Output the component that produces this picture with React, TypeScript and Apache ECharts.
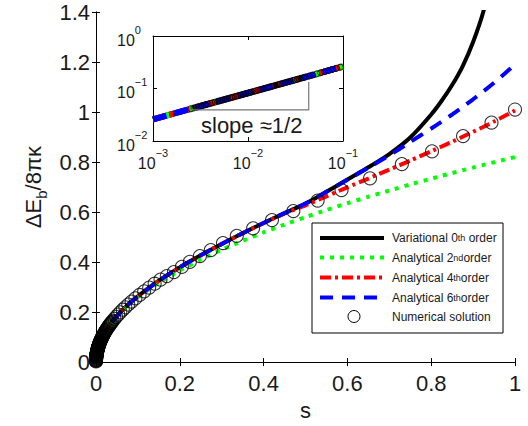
import React, { useEffect, useRef } from "react";
import * as echarts from "echarts";

// s grid shared by the analytic / variational curves
const sGrid = [0, 0.0005, 0.001, 0.002, 0.005, 0.01, 0.02, 0.035, 0.05, 0.075, 0.1, 0.15, 0.2, 0.25, 0.3, 0.35, 0.4, 0.45, 0.5, 0.55, 0.6, 0.65, 0.7, 0.75, 0.8, 0.825, 0.85, 0.875, 0.9, 0.925, 0.95, 0.975, 1.0];

const variational0 = [0, 0.0183, 0.0259, 0.0367, 0.058, 0.0821, 0.1163, 0.1538, 0.1845, 0.2275, 0.2631, 0.3254, 0.3789, 0.4274, 0.4724, 0.5153, 0.5563, 0.5955, 0.634, 0.681, 0.73, 0.779, 0.832, 0.898, 0.99, 1.045, 1.108, 1.183, 1.28, 1.405, 1.59, 1.85, 2.2];
const analytical2 = [0, 0.0183, 0.0259, 0.0367, 0.058, 0.082, 0.116, 0.1534, 0.1834, 0.2246, 0.2593, 0.3176, 0.3667, 0.41, 0.4491, 0.4851, 0.5186, 0.5501, 0.5798, 0.6081, 0.6352, 0.6611, 0.6861, 0.7101, 0.7334, 0.7448, 0.756, 0.767, 0.7779, 0.7887, 0.7992, 0.8097, 0.82];
const analytical4 = [0, 0.0183, 0.0259, 0.0367, 0.058, 0.0821, 0.1163, 0.1538, 0.1845, 0.2275, 0.2631, 0.3254, 0.3789, 0.4274, 0.4724, 0.5153, 0.5563, 0.5945, 0.627, 0.663, 0.699, 0.734, 0.77, 0.806, 0.843, 0.862, 0.881, 0.901, 0.921, 0.941, 0.962, 0.984, 1.006];
const analytical6 = [0, 0.0183, 0.0259, 0.0367, 0.058, 0.0821, 0.1163, 0.1538, 0.1845, 0.2275, 0.2631, 0.3254, 0.3789, 0.4274, 0.4724, 0.5153, 0.5563, 0.5955, 0.634, 0.681, 0.729, 0.777, 0.827, 0.88, 0.934, 0.962, 0.99, 1.02, 1.051, 1.083, 1.117, 1.153, 1.19];

const numericalS = [0.00001, 0.00003, 0.00006, 0.0001, 0.00015, 0.0002, 0.0003, 0.0004, 0.0005, 0.0006, 0.0007, 0.0008, 0.0009, 0.001, 0.0011, 0.0012, 0.0013, 0.0014, 0.0015, 0.0016, 0.0017, 0.0018, 0.0019, 0.002, 0.0021, 0.0022, 0.0023, 0.0024, 0.0025, 0.0027, 0.0029, 0.003, 0.0032, 0.0033, 0.0035, 0.0036, 0.0038, 0.004, 0.0042, 0.0045, 0.0048, 0.005, 0.0053, 0.0055, 0.0058, 0.006, 0.0064, 0.0067, 0.007, 0.0074, 0.0078, 0.0082, 0.0086, 0.009, 0.0095, 0.01, 0.0105, 0.011, 0.0116, 0.0122, 0.0128, 0.0135, 0.0142, 0.015, 0.0158, 0.0165, 0.0172, 0.018, 0.019, 0.02, 0.021, 0.022, 0.0232, 0.0245, 0.0257, 0.027, 0.0285, 0.03, 0.0315, 0.033, 0.0345, 0.036, 0.038, 0.04, 0.044, 0.048, 0.053, 0.058, 0.064, 0.07, 0.077, 0.085, 0.094, 0.104, 0.115, 0.127, 0.14, 0.154, 0.169, 0.186, 0.205, 0.224, 0.248, 0.274, 0.303, 0.336, 0.375, 0.42, 0.471, 0.529, 0.586, 0.654, 0.73, 0.802, 0.876, 0.944, 1.0];
const numericalY = [0.0026, 0.0045, 0.0064, 0.0082, 0.01, 0.0116, 0.0142, 0.0164, 0.0183, 0.0201, 0.0217, 0.0232, 0.0246, 0.0259, 0.0272, 0.0284, 0.0296, 0.0307, 0.0318, 0.0328, 0.0338, 0.0348, 0.0357, 0.0367, 0.0376, 0.0385, 0.0393, 0.0402, 0.041, 0.0426, 0.0442, 0.0449, 0.0464, 0.0471, 0.0485, 0.0492, 0.0505, 0.0519, 0.0531, 0.055, 0.0568, 0.058, 0.0597, 0.0608, 0.0624, 0.0635, 0.0656, 0.0671, 0.0686, 0.0705, 0.0724, 0.0743, 0.0761, 0.0778, 0.0799, 0.082, 0.0841, 0.086, 0.0884, 0.0906, 0.0928, 0.0953, 0.0977, 0.1004, 0.1031, 0.1053, 0.1076, 0.1103, 0.1133, 0.1163, 0.1192, 0.122, 0.1253, 0.1289, 0.1321, 0.1353, 0.139, 0.1427, 0.1462, 0.1497, 0.153, 0.1564, 0.1607, 0.165, 0.1732, 0.1809, 0.1903, 0.1993, 0.2095, 0.2193, 0.2303, 0.2422, 0.2551, 0.2687, 0.283, 0.298, 0.3136, 0.33, 0.344, 0.36, 0.381, 0.401, 0.424, 0.448, 0.476, 0.505, 0.535, 0.568, 0.604, 0.646, 0.688, 0.735, 0.792, 0.843, 0.904, 0.958, 1.01];

// slope triangle in the inset (log-log)
const slopeS = [0.00245, 0.0436, 0.0436];
const slopeY = [0.039, 0.039, 0.133];

const legendLabels = [
  "Variational 0{s|th} order",
  "Analytical 2{s|nd}order",
  "Analytical 4{s|th}order",
  "Analytical 6{s|th}order",
  "Numerical solution",
];

const FONT = "'Liberation Sans', Arial, Helvetica, sans-serif";
const TXT = "#1a1a1a";

const pairs = (xs: number[], ys: number[]) => xs.map((x, i) => [x, ys[i]]);
const insetPairs = (xs: number[], ys: number[]) =>
  pairs(xs, ys).filter(([x]) => x >= 0.001 && x <= 0.1);

const DOT = [4, 6];
const DASHDOT = [11, 4, 3, 4];
const DASH = [13, 9];

export default function App() {
  const ref = useRef<HTMLDivElement>(null);
  useEffect(() => {
    if (!ref.current) return;
    const chart = echarts.init(ref.current, undefined, { renderer: "svg" });

    const supFmt = (v: number) => {
      const e = Math.round(Math.log10(v));
      const es = e < 0 ? "\u2212" + Math.abs(e) : String(e);
      return "{b|10}{e|" + es + "}";
    };
    const supRich = {
      b: { fontSize: 16, lineHeight: 24, color: TXT, fontFamily: FONT, verticalAlign: "bottom" },
      e: { fontSize: 11, lineHeight: 12, color: TXT, fontFamily: FONT, verticalAlign: "top" },
    };

    const mainAxisCommon = {
      axisLine: { show: true, lineStyle: { color: "#000", width: 1 } },
      axisTick: { show: true, inside: true, length: 4, lineStyle: { color: "#000" } },
      splitLine: { show: false },
    };
    const insetAxisCommon = {
      axisLine: { show: true, lineStyle: { color: "#000", width: 1 } },
      axisTick: { show: true, inside: true, length: 4, lineStyle: { color: "#000" } },
      splitLine: { show: false },
      minorTick: { show: false },
    };

    const legendY = [238, 257.5, 277.5, 297.5, 316.5];
    const legendGraphics: any[] = [
      {
        type: "rect",
        shape: { x: 312, y: 223, width: 191, height: 110 },
        style: { fill: "#fff", stroke: "#000", lineWidth: 1 },
        z: 100,
      },
    ];
    const legendStyles = [
      { stroke: "#000", lineDash: null },
      { stroke: "#00ff00", lineDash: DOT },
      { stroke: "#ff0000", lineDash: DASHDOT },
      { stroke: "#0000ff", lineDash: DASH },
    ];
    legendStyles.forEach((ls, i) => {
      legendGraphics.push({
        type: "line",
        shape: { x1: 320, y1: legendY[i], x2: 384, y2: legendY[i] },
        style: { stroke: ls.stroke, lineWidth: 4, lineDash: ls.lineDash, lineCap: "butt" },
        z: 101,
      });
    });
    legendGraphics.push({
      type: "circle",
      shape: { cx: 354, cy: legendY[4], r: 6 },
      style: { fill: "none", stroke: "#000", lineWidth: 1 },
      z: 101,
    });
    legendLabels.forEach((lab, i) => {
      legendGraphics.push({
        type: "text",
        x: 392,
        y: legendY[i],
        style: {
          text: lab,
          fontSize: 12,
          fontFamily: FONT,
          fill: TXT,
          verticalAlign: "middle",
          align: "left",
          rich: {
            s: { fontSize: 9, fontFamily: FONT, fill: TXT, verticalAlign: "middle" },
          },
        },
        z: 101,
      });
    });
    legendGraphics.push({
      type: "text",
      x: 201,
      y: 125,
      style: {
        text: "slope \u22481/2",
        fontSize: 22,
        fontFamily: FONT,
        fill: TXT,
        verticalAlign: "middle",
        align: "left",
      },
      z: 50,
    });

    chart.setOption({
      animation: false,
      backgroundColor: "#fff",
      textStyle: { fontFamily: FONT },
      grid: [
        { left: 96, top: 12, width: 419, height: 353, containLabel: false },
        { left: 153, top: 36, width: 190, height: 105, show: true, backgroundColor: "#fff", borderWidth: 0, z: 10 },
      ],
      xAxis: [
        {
          type: "value", gridIndex: 0, min: 0, max: 1, interval: 0.2, position: "bottom",
          ...mainAxisCommon,
          axisLabel: { fontSize: 22, color: TXT, margin: 10, fontFamily: FONT },
          name: "s", nameLocation: "middle", nameGap: 36,
          nameTextStyle: { fontSize: 22, color: TXT, fontFamily: FONT },
        },
        {
          type: "value", gridIndex: 0, min: 0, max: 1, interval: 0.2, position: "top",
          ...mainAxisCommon, axisLabel: { show: false },
        },
        {
          type: "log", gridIndex: 1, min: 0.001, max: 0.1, logBase: 10, position: "bottom",
          ...insetAxisCommon,
          axisLabel: { formatter: supFmt, rich: supRich, margin: 6 },
          z: 11,
        },
        {
          type: "log", gridIndex: 1, min: 0.001, max: 0.1, logBase: 10, position: "top",
          ...insetAxisCommon, axisLabel: { show: false }, z: 11,
        },
      ],
      yAxis: [
        {
          type: "value", gridIndex: 0, min: 0, max: 1.4, interval: 0.2, position: "left",
          ...mainAxisCommon,
          axisLabel: { fontSize: 22, color: TXT, margin: 6, fontFamily: FONT },
          name: "{a|\u0394E}{b|b}{a|/8\u03c0\u03ba}",
          nameLocation: "middle", nameGap: 46, nameRotate: 90,
          nameTextStyle: {
            rich: {
              a: { fontSize: 22, lineHeight: 30, color: TXT, fontFamily: FONT },
              b: { fontSize: 15, lineHeight: 14, color: TXT, fontFamily: FONT, verticalAlign: "bottom" },
            },
          },
        },
        {
          type: "value", gridIndex: 0, min: 0, max: 1.4, interval: 0.2, position: "right",
          ...mainAxisCommon, axisLabel: { show: false },
        },
        {
          type: "log", gridIndex: 1, min: 0.01, max: 1, logBase: 10, position: "left",
          ...insetAxisCommon,
          axisLabel: { formatter: supFmt, rich: supRich, margin: 36, align: "left" },
          z: 11,
        },
        {
          type: "log", gridIndex: 1, min: 0.01, max: 1, logBase: 10, position: "right",
          ...insetAxisCommon, axisLabel: { show: false }, z: 11,
        },
      ],
      series: [
        {
          name: "Variational 0th order", type: "line", xAxisIndex: 0, yAxisIndex: 0,
          data: pairs(sGrid, variational0), showSymbol: false, smooth: 0.3,
          lineStyle: { color: "#000", width: 4, cap: "butt" }, z: 2,
        },
        {
          name: "Analytical 2nd order", type: "line", xAxisIndex: 0, yAxisIndex: 0,
          data: pairs(sGrid, analytical2), showSymbol: false, smooth: 0.2,
          lineStyle: { color: "#00ff00", width: 4, type: DOT, cap: "butt" }, z: 3,
        },
        {
          name: "Analytical 4th order", type: "line", xAxisIndex: 0, yAxisIndex: 0,
          data: pairs(sGrid, analytical4), showSymbol: false, smooth: 0.2,
          lineStyle: { color: "#ff0000", width: 4, type: DASHDOT, cap: "butt" }, z: 4,
        },
        {
          name: "Analytical 6th order", type: "line", xAxisIndex: 0, yAxisIndex: 0,
          data: pairs(sGrid, analytical6), showSymbol: false, smooth: 0.2,
          lineStyle: { color: "#0000ff", width: 4, type: DASH, cap: "butt" }, z: 5,
        },
        {
          name: "Numerical solution", type: "scatter", xAxisIndex: 0, yAxisIndex: 0,
          data: pairs(numericalS, numericalY), symbol: "circle", symbolSize: 13, clip: false,
          itemStyle: { color: "rgba(0,0,0,0)", borderColor: "#000", borderWidth: 1.1 }, z: 6,
        },
        // inset
        {
          type: "line", xAxisIndex: 2, yAxisIndex: 2, data: insetPairs(sGrid, variational0),
          showSymbol: false, lineStyle: { color: "#000", width: 6, cap: "butt" }, z: 12,
        },
        {
          type: "line", xAxisIndex: 2, yAxisIndex: 2, data: insetPairs(sGrid, analytical2),
          showSymbol: false, lineStyle: { color: "#00ff00", width: 6, type: [5, 7], cap: "butt" }, z: 13,
        },
        {
          type: "line", xAxisIndex: 2, yAxisIndex: 2, data: insetPairs(sGrid, analytical4),
          showSymbol: false, lineStyle: { color: "#ff0000", width: 6, type: [12, 5, 4, 5], cap: "butt" }, z: 14,
        },
        {
          type: "line", xAxisIndex: 2, yAxisIndex: 2, data: insetPairs(sGrid, analytical6),
          showSymbol: false, lineStyle: { color: "#0000ff", width: 6, type: [14, 8], cap: "butt" }, z: 15,
        },
        {
          type: "scatter", xAxisIndex: 2, yAxisIndex: 2,
          data: insetPairs(numericalS, numericalY).filter(([x]) => x >= 0.0025),
          symbol: "circle", symbolSize: 6,
          itemStyle: { color: "rgba(0,0,0,0)", borderColor: "#000", borderWidth: 1 }, z: 16,
        },
        {
          type: "line", xAxisIndex: 2, yAxisIndex: 2, data: pairs(slopeS, slopeY),
          showSymbol: false, lineStyle: { color: "#777", width: 1.2 }, z: 17,
        },
      ],
      graphic: legendGraphics,
    });
    return () => chart.dispose();
  }, []);
  return (
    <div
      ref={ref}
      style={{ position: "fixed", left: 0, top: 0, width: 528, height: 426, background: "#fff" }}
    />
  );
}
